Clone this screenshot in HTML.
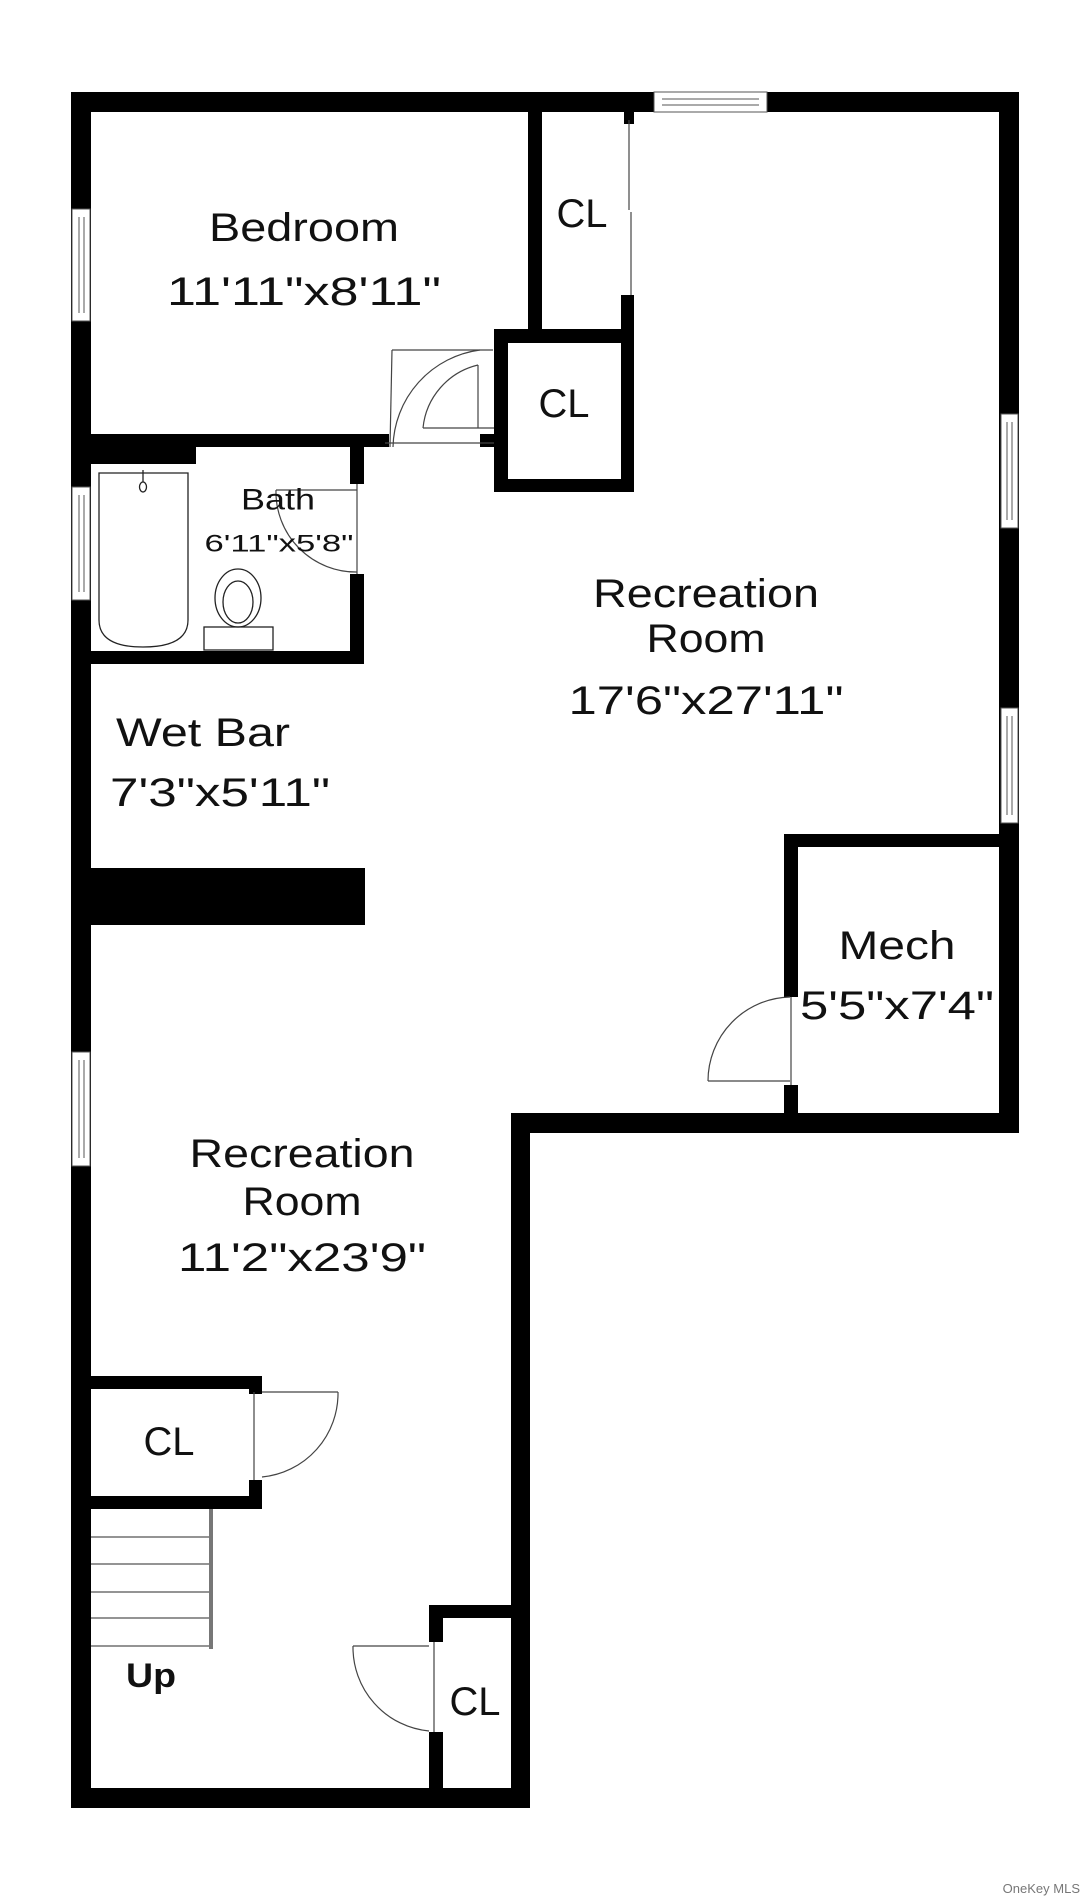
<!DOCTYPE html>
<html><head><meta charset="utf-8"><style>
html,body{margin:0;padding:0;background:#fff}
svg{display:block}
text{font-family:"Liberation Sans",sans-serif;fill:#111}
</style></head><body>
<svg width="1085" height="1900" viewBox="0 0 1085 1900" xmlns="http://www.w3.org/2000/svg">
<g fill="#000">
<rect x="71" y="92" width="948" height="20"/>
<rect x="71" y="92" width="20" height="1716"/>
<rect x="999" y="92" width="20" height="1041"/>
<rect x="511" y="1113" width="508" height="20"/>
<rect x="511" y="1113" width="19" height="695"/>
<rect x="71" y="1788" width="459" height="20"/>
<rect x="528" y="112" width="14" height="231"/>
<rect x="494" y="329" width="140" height="14"/>
<rect x="494" y="329" width="14" height="163"/>
<rect x="494" y="479" width="140" height="13"/>
<rect x="621" y="295" width="13" height="197"/>
<rect x="624" y="112" width="10" height="12"/>
<rect x="91" y="434" width="298" height="13"/>
<rect x="480" y="434" width="14" height="13"/>
<rect x="91" y="447" width="105" height="17"/>
<rect x="350" y="442" width="14" height="42"/>
<rect x="350" y="574" width="14" height="90"/>
<rect x="91" y="651" width="273" height="13"/>
<rect x="81" y="868" width="284" height="57"/>
<rect x="784" y="834" width="235" height="13"/>
<rect x="784" y="834" width="14" height="163"/>
<rect x="784" y="1085" width="14" height="48"/>
<rect x="91" y="1376" width="171" height="13"/>
<rect x="249" y="1376" width="13" height="18"/>
<rect x="249" y="1480" width="13" height="29"/>
<rect x="91" y="1496" width="171" height="13"/>
<rect x="429" y="1605" width="101" height="13"/>
<rect x="429" y="1605" width="14" height="37"/>
<rect x="429" y="1732" width="14" height="65"/>
</g>
<g fill="#fff" stroke="#555" stroke-width="1">
<rect x="654" y="92" width="113" height="20"/>
<line x1="662" y1="99" x2="759" y2="99"/><line x1="662" y1="105" x2="759" y2="105"/>
<rect x="72" y="209" width="18" height="112"/>
<line x1="79" y1="217" x2="79" y2="313"/><line x1="84" y1="217" x2="84" y2="313"/>
<rect x="72" y="487" width="18" height="113"/>
<line x1="79" y1="495" x2="79" y2="592"/><line x1="84" y1="495" x2="84" y2="592"/>
<rect x="1001" y="414" width="17" height="114"/>
<line x1="1007" y1="422" x2="1007" y2="520"/><line x1="1012" y1="422" x2="1012" y2="520"/>
<rect x="1001" y="708" width="17" height="115"/>
<line x1="1007" y1="716" x2="1007" y2="815"/><line x1="1012" y1="716" x2="1012" y2="815"/>
<rect x="72" y="1052" width="18" height="114"/>
<line x1="79" y1="1060" x2="79" y2="1158"/><line x1="84" y1="1060" x2="84" y2="1158"/>
</g>
<g fill="none" stroke="#444" stroke-width="1.2">
<line x1="629" y1="120" x2="629" y2="210"/><line x1="631" y1="212" x2="631" y2="295"/>
<path d="M393 447 A 100 100 0 0 1 480 350"/>
<line x1="390" y1="447" x2="392" y2="350"/><line x1="392" y1="350" x2="493" y2="350"/>
<path d="M423 428 A 72 72 0 0 1 478 365"/>
<line x1="423" y1="428" x2="494" y2="428"/><line x1="478" y1="365" x2="478" y2="428"/>
<line x1="385" y1="443" x2="494" y2="443"/>
<path d="M276 490 A 80 80 0 0 0 357 572"/>
<line x1="276" y1="490" x2="357" y2="490"/><line x1="357" y1="484" x2="357" y2="574"/>
<path d="M708 1081 A 84 84 0 0 1 790 997"/>
<line x1="708" y1="1081" x2="790" y2="1081"/><line x1="791" y1="997" x2="791" y2="1085"/>
<path d="M338 1392 A 84 84 0 0 1 262 1477"/>
<line x1="262" y1="1392" x2="338" y2="1392"/><line x1="254" y1="1392" x2="254" y2="1480"/>
<path d="M353 1646 A 84 84 0 0 0 429 1731"/>
<line x1="353" y1="1646" x2="429" y2="1646"/><line x1="434" y1="1642" x2="434" y2="1732"/>
</g>
<g fill="none" stroke="#222" stroke-width="1.3">
<path d="M99 473 H188 V620 Q188 647 143 647 Q99 647 99 620 Z"/>
<ellipse cx="143" cy="487" rx="3.5" ry="5"/>
<line x1="143" y1="470" x2="143" y2="482"/>
<ellipse cx="238" cy="598" rx="23" ry="29"/>
<ellipse cx="238" cy="602" rx="15" ry="21"/>
<rect x="204" y="627" width="69" height="23"/>
</g>
<g stroke="#555" stroke-width="1.2">
<line x1="91" y1="1537" x2="209" y2="1537"/>
<line x1="91" y1="1564" x2="209" y2="1564"/>
<line x1="91" y1="1592" x2="209" y2="1592"/>
<line x1="91" y1="1618" x2="209" y2="1618"/>
<line x1="91" y1="1646" x2="209" y2="1646"/>
</g>
<rect x="209" y="1509" width="4" height="140" fill="#777"/>
<g text-anchor="middle" dominant-baseline="central" font-size="40" lengthAdjust="spacingAndGlyphs">
<text x="304" y="228" textLength="190" lengthAdjust="spacingAndGlyphs">Bedroom</text>
<text x="304" y="292" textLength="274" lengthAdjust="spacingAndGlyphs">11'11"x8'11"</text>
<text x="582" y="214" textLength="51" lengthAdjust="spacingAndGlyphs">CL</text>
<text x="564" y="404" textLength="51" lengthAdjust="spacingAndGlyphs">CL</text>
<text x="278" y="500" font-size="30" textLength="74" lengthAdjust="spacingAndGlyphs">Bath</text>
<text x="279" y="544" font-size="24" textLength="149" lengthAdjust="spacingAndGlyphs">6'11"x5'8"</text>
<text x="706" y="594" textLength="226" lengthAdjust="spacingAndGlyphs">Recreation</text>
<text x="706" y="639" textLength="119" lengthAdjust="spacingAndGlyphs">Room</text>
<text x="706" y="701" textLength="275" lengthAdjust="spacingAndGlyphs">17'6"x27'11"</text>
<text x="203" y="733" textLength="174" lengthAdjust="spacingAndGlyphs">Wet Bar</text>
<text x="220" y="793" textLength="220" lengthAdjust="spacingAndGlyphs">7'3"x5'11"</text>
<text x="897" y="946" textLength="117" lengthAdjust="spacingAndGlyphs">Mech</text>
<text x="897" y="1006" textLength="194" lengthAdjust="spacingAndGlyphs">5'5"x7'4"</text>
<text x="302" y="1154" textLength="225" lengthAdjust="spacingAndGlyphs">Recreation</text>
<text x="302" y="1202" textLength="119" lengthAdjust="spacingAndGlyphs">Room</text>
<text x="302" y="1258" textLength="248" lengthAdjust="spacingAndGlyphs">11'2"x23'9"</text>
<text x="169" y="1442" textLength="51" lengthAdjust="spacingAndGlyphs">CL</text>
<text x="475" y="1702" textLength="51" lengthAdjust="spacingAndGlyphs">CL</text>
<text x="151" y="1676" font-size="34" font-weight="bold" textLength="50" lengthAdjust="spacingAndGlyphs">Up</text>
</g>
<text x="1080" y="1893" text-anchor="end" font-size="13" style="fill:#777">OneKey MLS</text>
</svg>
</body></html>
